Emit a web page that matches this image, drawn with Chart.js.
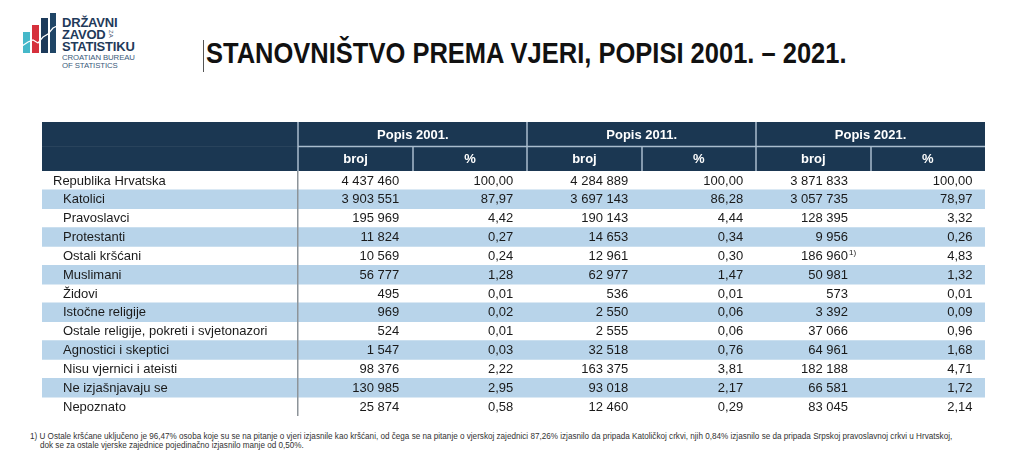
<!DOCTYPE html>
<html>
<head>
<meta charset="utf-8">
<script src="https://cdn.jsdelivr.net/npm/chart.js@4.4.1/dist/chart.umd.min.js"></script>
<style>
    html, body { margin: 0; padding: 0; background: #fff; }
    body { width: 1024px; height: 456px; position: relative; overflow: hidden; font-family: "Liberation Sans", Arial, sans-serif; }
    canvas { position: absolute; left: 0; }
    #head { top: 122px; }
    #body { top: 171px; }
    .logo-txt { position: absolute; left: 62px; color: #1f3a5a; font-weight: bold; font-size: 13px; line-height: 13px; letter-spacing: -0.2px; }
    .logo-sub { position: absolute; left: 62px; color: #3a5a7a; font-size: 7.8px; line-height: 8px; letter-spacing: -0.1px; }
    .logo-za { position: absolute; left: 114px; top: 30px; color: #1f3a5a; font-size: 6px; line-height: 6px; transform: rotate(90deg); transform-origin: left top; }
    #cursor { position: absolute; left: 203px; top: 40px; width: 1px; height: 32px; background: #555; }
    #title { position: absolute; left: 206px; top: 38px; font-size: 30px; line-height: 30px; font-weight: bold; color: #111; white-space: nowrap; transform: scaleX(0.85); transform-origin: left top; }
    .note { position: absolute; font-size: 8.15px; line-height: 9px; color: #333; white-space: nowrap; }
</style>
</head>
<body>
<svg width="60" height="60" style="position:absolute;left:0;top:0">
    <rect x="23" y="32" width="7" height="21" fill="#45b8c9"/>
    <rect x="32" y="25" width="7" height="28" fill="#d6303c"/>
    <rect x="41" y="18" width="7" height="35" fill="#1c3a5a"/>
    <rect x="50" y="13" width="6" height="40" fill="#1f4566"/>
    <polyline points="22,46 28,42 33,40 38,43 43,37 48,34 53,28 57,26" fill="none" stroke="#fff" stroke-width="1.2"/>
</svg>
<div class="logo-txt" style="top:16px">DRŽAVNI</div>
<div class="logo-txt" style="top:28px">ZAVOD</div>
<div class="logo-za">ZA</div>
<div class="logo-txt" style="top:40px">STATISTIKU</div>
<div class="logo-sub" style="top:54px">CROATIAN BUREAU</div>
<div class="logo-sub" style="top:62px">OF STATISTICS</div>

<div id="cursor"></div>
<div id="title">STANOVNIŠTVO PREMA VJERI, POPISI 2001. – 2021.</div>

<canvas id="head" width="1024" height="49"></canvas>
<canvas id="body" width="1024" height="245"></canvas>

<div class="note" style="left:30px;top:432px">1) U Ostale kršćane uključeno je 96,47% osoba koje su se na pitanje o vjeri izjasnile kao kršćani, od čega se na pitanje o vjerskoj zajednici 87,26% izjasnilo da pripada Katoličkoj crkvi, njih 0,84% izjasnilo se da pripada Srpskoj pravoslavnoj crkvi u Hrvatskoj,</div>
<div class="note" style="left:40px;top:441px">dok se za ostale vjerske zajednice pojedinačno izjasnilo manje od 0,50%.</div>

<script>
const rowLabels = [
    'Republika Hrvatska', 'Katolici', 'Pravoslavci', 'Protestanti', 'Ostali kršćani',
    'Muslimani', 'Židovi', 'Istočne religije', 'Ostale religije, pokreti i svjetonazori',
    'Agnostici i skeptici', 'Nisu vjernici i ateisti', 'Ne izjašnjavaju se', 'Nepoznato',
];
const broj2001 = [4437460, 3903551, 195969, 11824, 10569, 56777, 495, 969, 524, 1547, 98376, 130985, 25874];
const pct2001 = [100.00, 87.97, 4.42, 0.27, 0.24, 1.28, 0.01, 0.02, 0.01, 0.03, 2.22, 2.95, 0.58];
const broj2011 = [4284889, 3697143, 190143, 14653, 12961, 62977, 536, 2550, 2555, 32518, 163375, 93018, 12460];
const pct2011 = [100.00, 86.28, 4.44, 0.34, 0.30, 1.47, 0.01, 0.06, 0.06, 0.76, 3.81, 2.17, 0.29];
const broj2021 = [3871833, 3057735, 128395, 9956, 186960, 50981, 573, 3392, 37066, 64961, 182188, 66581, 83045];
const pct2021 = [100.00, 78.97, 3.32, 0.26, 4.83, 1.32, 0.01, 0.09, 0.96, 1.68, 4.71, 1.72, 2.14];

const groupLabels = ['Popis 2001.', 'Popis 2011.', 'Popis 2021.'];
const subLabels = ['broj', '%'];
const headRows = ['popis', 'broj/%'];
const noteRow = 4; // 2021 broj of "Ostali kršćani" carries footnote 1)

const columns = [broj2001, pct2001, broj2011, pct2011, broj2021, pct2021];

// x runs in column units: label column from LABEL_START to 0, numeric columns 0..6
const LABEL_START = -2.24;
const NAVY = '#1b3752';
const BLUE = '#b8d4ea';
const FONT = '"Liberation Sans", Arial, sans-serif';

const fmtBroj = (n) => String(n).replace(/\B(?=(\d{3})+(?!\d))/g, ' ');
const fmtPct = (v) => v.toFixed(2).replace('.', ',');

const baseOptions = () => ({
    indexAxis: 'y',
    responsive: false,
    animation: false,
    events: [],
    layout: { padding: { left: 42, right: 39, top: 0, bottom: 0 } },
    plugins: { legend: { display: false }, tooltip: { enabled: false } },
    scales: {
        x: { type: 'linear', min: LABEL_START, max: columns.length, display: false },
        y: { type: 'category', display: false, offset: true },
    },
});

const headerText = {
    id: 'headerText',
    afterDatasetsDraw(chart) {
        const { ctx, scales: { x, y }, chartArea } = chart;
        const rowEdge = (y.getPixelForValue(0) + y.getPixelForValue(1)) / 2;
        ctx.save();
        ctx.strokeStyle = '#a9bccd';
        ctx.lineWidth = 1.5;
        ctx.beginPath();
        for (let c = 0; c < columns.length; c += 2) {
            const px = Math.round(x.getPixelForValue(c));
            ctx.moveTo(px, chartArea.top);
            ctx.lineTo(px, chartArea.bottom);
            const sx = Math.round(x.getPixelForValue(c + 1));
            ctx.moveTo(sx, rowEdge);
            ctx.lineTo(sx, chartArea.bottom);
        }
        ctx.moveTo(x.getPixelForValue(0), rowEdge);
        ctx.lineTo(chartArea.right, rowEdge);
        ctx.stroke();

        ctx.fillStyle = '#ffffff';
        ctx.font = 'bold 13px ' + FONT;
        ctx.textAlign = 'center';
        ctx.textBaseline = 'middle';
        groupLabels.forEach((g, i) => {
            ctx.fillText(g, x.getPixelForValue(i * 2 + 1), y.getPixelForValue(0) + 1);
        });
        columns.forEach((col, c) => {
            ctx.fillText(subLabels[c % 2], x.getPixelForValue(c + 0.5), y.getPixelForValue(1) + 1);
        });
        ctx.restore();
    },
};

const bodyText = {
    id: 'bodyText',
    afterDatasetsDraw(chart) {
        const { ctx, scales: { x, y }, chartArea } = chart;
        const rightPad = [13.5, 14, 13.5, 13, 22.5, 12.5];
        ctx.save();
        const lx = Math.round(x.getPixelForValue(0)) - 0.25;
        ctx.strokeStyle = '#8d9499';
        ctx.lineWidth = 1.5;
        ctx.beginPath();
        ctx.moveTo(lx, chartArea.top);
        ctx.lineTo(lx, chartArea.bottom);
        ctx.stroke();

        ctx.fillStyle = '#1a1a1a';
        ctx.font = '13px ' + FONT;
        ctx.textBaseline = 'middle';
        rowLabels.forEach((label, i) => {
            const py = y.getPixelForValue(i) + 0.5;
            ctx.textAlign = 'left';
            ctx.fillText(label, x.getPixelForValue(LABEL_START) + (i === 0 ? 11 : 21), py);
            ctx.textAlign = 'right';
            columns.forEach((col, c) => {
                const txt = c % 2 === 0 ? fmtBroj(col[i]) : fmtPct(col[i]);
                const rx = x.getPixelForValue(c + 1) - rightPad[c];
                ctx.fillText(txt, rx, py);
                if (c === 4 && i === noteRow) {
                    ctx.save();
                    ctx.textAlign = 'left';
                    ctx.font = '8px ' + FONT;
                    ctx.fillText('1)', rx + 1, py - 4);
                    ctx.restore();
                }
            });
        });
        ctx.restore();
    },
};

new Chart(document.getElementById('head'), {
    type: 'bar',
    data: {
        labels: headRows,
        datasets: [{
            data: headRows.map(() => [LABEL_START, columns.length]),
            backgroundColor: NAVY,
            borderWidth: 0,
            barPercentage: 1,
            categoryPercentage: 1,
        }],
    },
    options: baseOptions(),
    plugins: [headerText],
});

new Chart(document.getElementById('body'), {
    type: 'bar',
    data: {
        labels: rowLabels,
        datasets: [{
            data: rowLabels.map(() => [LABEL_START, columns.length]),
            backgroundColor: rowLabels.map((_, i) => (i % 2 ? BLUE : 'rgba(255,255,255,0)')),
            borderWidth: 0,
            barPercentage: 1,
            categoryPercentage: 1,
        }],
    },
    options: baseOptions(),
    plugins: [bodyText],
});
</script>
</body>
</html>
